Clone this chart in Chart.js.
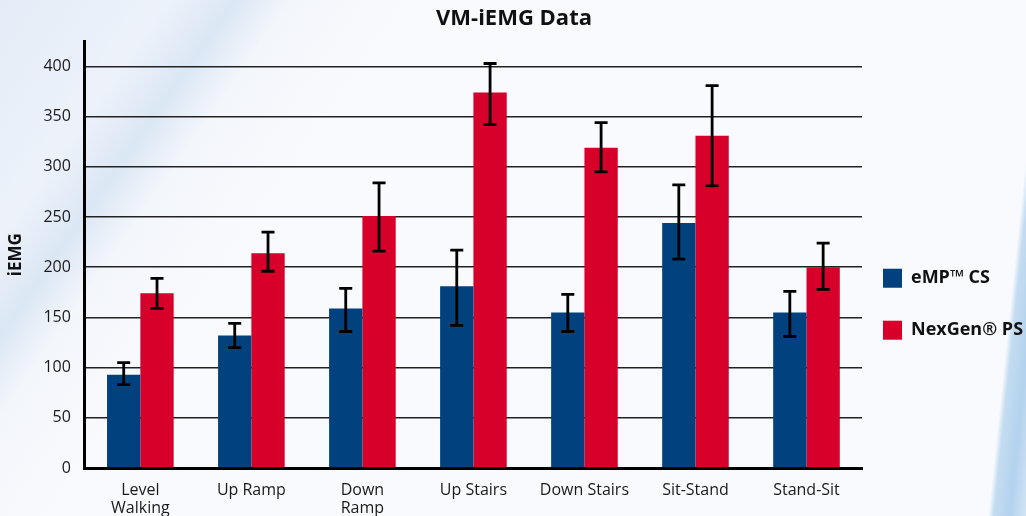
<!DOCTYPE html>
<html lang="en">
<head>
  <meta charset="UTF-8" />
  <title>VM-iEMG Data</title>
  <script src="https://cdn.jsdelivr.net/npm/chart.js"></script>
  <style>
    html, body { margin: 0; padding: 0; }
    body {
      width: 1026px; height: 516px; overflow: hidden;
      background:
        linear-gradient(96deg, rgba(255,255,255,0) 96.5%, #c4dcf1 97%, #b3d2ee 98.5%, #d2e4f4 100%),
        linear-gradient(125deg, #e3ecf7 0%, #edf2fa 12%, #dbe7f4 17%, #f3f6fb 21%, #f9fafd 30%);
      font-family: "Open Sans", sans-serif;
    }
    .wrap { position: relative; width: 1026px; height: 516px; }
  </style>
</head>
<body>
<div class="wrap">
  <canvas id="emgChart"></canvas>
</div>

<script>
  // values
  const categories = [['Level', 'Walking'], 'Up Ramp', ['Down', 'Ramp'], 'Up Stairs', 'Down Stairs', 'Sit-Stand', 'Stand-Sit'];

  const empValues  = [93, 132, 159, 181, 155, 244, 155];
  const empLow     = [83, 120, 136, 142, 136, 208, 131];
  const empHigh    = [105, 144, 179, 217, 173, 282, 176];

  const nexValues  = [174, 214, 251, 374, 319, 331, 200];
  const nexLow     = [159, 196, 216, 342, 295, 281, 178];
  const nexHigh    = [189, 235, 284, 403, 344, 381, 224];

  const yTicks = [0, 50, 100, 150, 200, 250, 300, 350, 400];

  // draws the black whiskers on top of each bar
  const errorBars = {
    id: 'errorBars',
    afterDatasetsDraw(chart) {
      const ctx = chart.ctx;
      const y = chart.scales.y;
      ctx.save();
      ctx.strokeStyle = '#000';
      ctx.lineWidth = 2.8;
      chart.data.datasets.forEach((ds, i) => {
        const meta = chart.getDatasetMeta(i);
        meta.data.forEach((bar, j) => {
          const top = y.getPixelForValue(ds.errHigh[j]);
          const bot = y.getPixelForValue(ds.errLow[j]);
          const x = bar.x;
          ctx.beginPath();
          ctx.moveTo(x, top); ctx.lineTo(x, bot);
          ctx.moveTo(x - 6.5, top); ctx.lineTo(x + 6.5, top);
          ctx.moveTo(x - 6.5, bot); ctx.lineTo(x + 6.5, bot);
          ctx.stroke();
        });
      });
      ctx.restore();
    }
  };

  Chart.defaults.font.family = '"Open Sans", sans-serif';
  Chart.defaults.color = '#1a1a1a';

  new Chart(document.getElementById('emgChart'), {
    type: 'bar',
    data: {
      labels: categories,
      datasets: [
        { label: 'eMP\u2122 CS', data: empValues, errLow: empLow, errHigh: empHigh, backgroundColor: '#00417e' },
        { label: 'NexGen\u00ae PS', data: nexValues, errLow: nexLow, errHigh: nexHigh, backgroundColor: '#d7002b' }
      ]
    },
    options: {
      responsive: true,
      maintainAspectRatio: false,
      animation: false,
      layout: { padding: { left: 2, right: 0, top: 0, bottom: 0 } },
      datasets: { bar: { categoryPercentage: 0.6, barPercentage: 1 } },
      plugins: {
        tooltip: { enabled: false },
        title: {
          display: true,
          text: 'VM-iEMG Data',
          font: { size: 22, weight: 'bold' },
          color: '#111',
          padding: { top: 6, bottom: 9 }
        },
        legend: {
          position: 'right',
          align: 'center',
          maxWidth: 164,
          title: { display: true, text: ' ', padding: { top: 90, bottom: 0 } },
          labels: {
            boxWidth: 19,
            boxHeight: 19,
            padding: 21,
            color: '#111',
            font: { size: 18, weight: 'bold', lineHeight: 1.72 },
            // wrap each label in an array so the row height follows the line height
            generateLabels: (chart) => Chart.defaults.plugins.legend.labels.generateLabels(chart)
              .map(item => ({ ...item, text: [item.text] }))
          }
        }
      },
      scales: {
        x: {
          grid: { display: false, drawTicks: false },
          border: { color: '#000', width: 3 },
          ticks: { font: { size: 16, lineHeight: 1.15 }, padding: 13, color: '#1a1a1a', maxRotation: 0 },
          afterFit: (scale) => { scale.height = 48; }
        },
        y: {
          min: 0,
          max: 425,
          afterBuildTicks: (scale) => { scale.ticks = yTicks.map(v => ({ value: v })); },
          grid: { color: '#222', lineWidth: 1.5, drawTicks: false },
          border: { color: '#000', width: 3 },
          ticks: { font: { size: 16 }, padding: 14, color: '#1a1a1a' },
          title: { display: true, text: 'iEMG', font: { size: 17, weight: 'bold' }, color: '#111', padding: { top: 4, bottom: 3 } }
        }
      }
    },
    plugins: [errorBars]
  });
</script>
</body>
</html>
